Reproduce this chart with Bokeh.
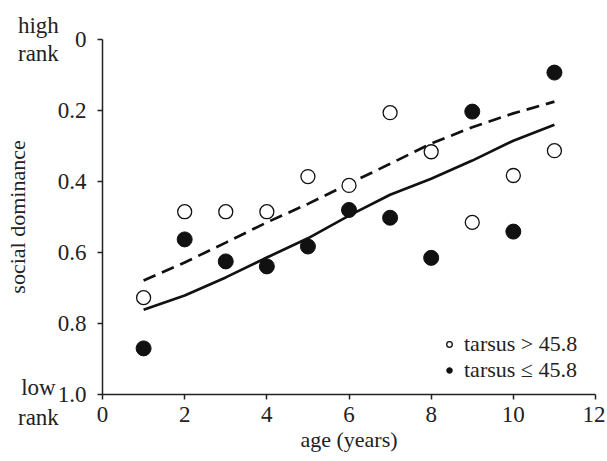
from bokeh.plotting import figure
from bokeh.models import Range1d, FixedTicker, Label, Legend, LegendItem
from bokeh.embed import file_html
from bokeh.resources import INLINE

# data
age = [1, 2, 3, 4, 5, 6, 7, 8, 9, 10, 11]
dom_large = [0.727, 0.485, 0.485, 0.485, 0.386, 0.411, 0.206, 0.316, 0.515, 0.383, 0.313]
dom_small = [0.870, 0.563, 0.625, 0.639, 0.583, 0.480, 0.502, 0.615, 0.203, 0.541, 0.093]
fit_large = [0.679, 0.628, 0.572, 0.515, 0.463, 0.406, 0.350, 0.293, 0.247, 0.208, 0.175]
fit_small = [0.761, 0.721, 0.670, 0.614, 0.560, 0.496, 0.437, 0.392, 0.341, 0.285, 0.240]
x_ticks = [0, 2, 4, 6, 8, 10, 12]
y_ticks = [0, 0.2, 0.4, 0.6, 0.8, 1.0]
y_tick_labels = ["0", "0.2", "0.4", "0.6", "0.8", "1.0"]
legend_labels = ["tarsus > 45.8", "tarsus \u2264 45.8"]
rank_text = ["high", "rank", "low", "rank"]
rank_y = [-0.04, 0.04, 0.98, 1.065]

FONT = "Liberation Serif"
INK = "#222222"

# the frame fills the canvas; the axes are pinned at x=0 and y=1.0 so that
# text can sit in the margin region outside the axes
p = figure(width=605, height=459, output_backend="svg", toolbar_location=None,
           x_range=Range1d(-2.483, 12.243), y_range=Range1d(1.183, -0.110),
           min_border=0)
p.outline_line_color = None
p.xgrid.visible = False
p.ygrid.visible = False
p.background_fill_color = "white"
p.border_fill_color = "white"

for ax in (p.xaxis[0], p.yaxis[0]):
    ax.axis_line_color = INK
    ax.axis_line_width = 1.5
    ax.major_tick_line_color = INK
    ax.major_tick_line_width = 1.5
    ax.major_tick_in = 0
    ax.major_tick_out = 5
    ax.minor_tick_line_color = None
    ax.major_label_text_font = FONT
    ax.major_label_text_font_size = "23px"
    ax.major_label_text_color = INK
    ax.axis_label_text_font = FONT
    ax.axis_label_text_font_size = "22px"
    ax.axis_label_text_font_style = "normal"
    ax.axis_label_text_color = INK

p.xaxis.ticker = FixedTicker(ticks=x_ticks)
p.xaxis.bounds = (0, 12)
p.xaxis.fixed_location = 1.0
p.xaxis.axis_label = "age (years)"
p.xaxis.major_label_standoff = 7
p.xaxis.axis_label_standoff = 2

p.yaxis.ticker = FixedTicker(ticks=y_ticks)
p.yaxis.bounds = (0, 1)
p.yaxis.fixed_location = 0
p.yaxis.major_label_overrides = {t: l for t, l in zip(y_ticks, y_tick_labels)}
p.yaxis.axis_label = "social dominance"
p.yaxis.major_label_standoff = 11
p.yaxis.axis_label_standoff = 25

# fitted curves
p.line(age, fit_large, line_color="#111111", line_width=2.7, line_dash="13 7")
p.line(age, fit_small, line_color="#111111", line_width=2.7)

# points
r_open = p.scatter(age, dom_large, size=14, marker="circle", fill_color="white",
                   line_color="#111111", line_width=1.3)
r_fill = p.scatter(age, dom_small, size=15, marker="circle", fill_color="#111111",
                   line_color="#111111")

legend = Legend(items=[LegendItem(label=legend_labels[0], renderers=[r_open]),
                       LegendItem(label=legend_labels[1], renderers=[r_fill])],
                location=(442, 76), border_line_color=None, background_fill_alpha=0,
                label_text_font=FONT, label_text_font_size="22px", label_text_color=INK,
                glyph_width=14, glyph_height=22, label_height=22, label_standoff=8,
                spacing=0, padding=0, margin=0)
p.add_layout(legend)

# rank annotations
for txt, yv in zip(rank_text, rank_y):
    p.add_layout(Label(x=-1.56, y=yv, text=txt, text_align="center", text_baseline="middle",
                       text_font=FONT, text_font_size="23px", text_color=INK))

open("out.html", "w").write(file_html(p, INLINE))
